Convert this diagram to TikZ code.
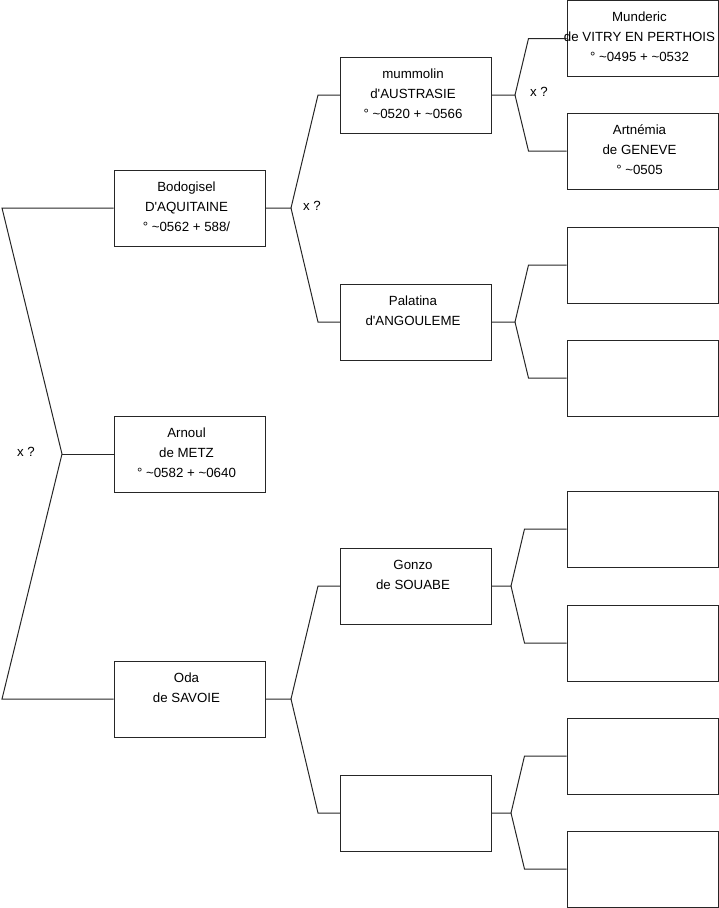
\documentclass[tikz,border=0pt]{standalone}
\usepackage{fontspec}
\setmainfont{Liberation Sans}
\usetikzlibrary{calc}
\begin{document}
\begin{tikzpicture}[x=1pt,y=-1pt,
  boxbase/.style={draw=black!85, line width=1pt, minimum width=151pt, minimum height=76pt, inner sep=0pt, fill=white},
  person/.style={boxbase, label={[anchor=north, yshift=-7.5pt, xshift=-3pt, align=center, inner sep=0pt, font=\fontsize{13.3}{20}\selectfont]north:#1}},
  emptybox/.style={boxbase},
  link/.style={draw=black!85, line width=1pt},
  qtext/.style={font=\fontsize{13.3}{20}\selectfont, inner sep=0pt}
]
\useasboundingbox (0,0) rectangle (719,908);

% generation 1
\node[person={\strut Bodogisel\\\strut D\textquotesingle AQUITAINE\\\strut ° \textasciitilde0562 + 588/}] (bodo) at (189.5,208) {};
\node[person={\strut Arnoul\\\strut de METZ\\\strut ° \textasciitilde0582 + \textasciitilde0640}] (arnoul) at (189.5,454) {};
\node[person={\strut Oda\\\strut de SAVOIE}] (oda) at (189.5,699) {};

% generation 2
\node[person={\strut mummolin\\\strut d\textquotesingle AUSTRASIE\\\strut ° \textasciitilde0520 + \textasciitilde0566}] (mumm) at (416,95) {};
\node[person={\strut Palatina\\\strut d\textquotesingle ANGOULEME}] (pala) at (416,322) {};
\node[person={\strut Gonzo\\\strut de SOUABE}] (gonzo) at (416,586) {};
\node[emptybox] (e2) at (416,813) {};

% generation 3
\node[person={\strut Munderic\\\strut de VITRY EN PERTHOIS\\\strut ° \textasciitilde0495 + \textasciitilde0532}] (mund) at (642.5,38.5) {};
\node[person={\strut Artnémia\\\strut de GENEVE\\\strut ° \textasciitilde0505}] (artn) at (642.5,151) {};
\node[emptybox] (p1) at (642.5,265) {};
\node[emptybox] (p2) at (642.5,378) {};
\node[emptybox] (g1) at (642.5,529) {};
\node[emptybox] (g2) at (642.5,643) {};
\node[emptybox] (h1) at (642.5,756) {};
\node[emptybox] (h2) at (642.5,869) {};

% bracket vertices
\coordinate (la) at (2,208);
\coordinate (lv) at (62,454);
\coordinate (lb) at (2,699);
\coordinate (bv) at (291,208);
\coordinate (ov) at (291,699);
\coordinate (mv) at (515,95);
\coordinate (pv) at (515,322);
\coordinate (gv) at (511,586);
\coordinate (ev) at (511,813);

% left bracket
\draw[link] (bodo.west) -- (la) -- (lv) -- (lb) -- (oda.west);
\draw[link] (lv) -- (arnoul.west);

% gen1 -> gen2
\draw[link] (bodo.east) -- (bv) -- ($(mumm.west)+(-22,0)$) -- (mumm.west);
\draw[link] (bv) -- ($(pala.west)+(-22,0)$) -- (pala.west);
\draw[link] (oda.east) -- (ov) -- ($(gonzo.west)+(-22,0)$) -- (gonzo.west);
\draw[link] (ov) -- ($(e2.west)+(-22,0)$) -- (e2.west);

% gen2 -> gen3
\draw[link] (mumm.east) -- (mv) -- ($(mund.west)+(-38,0)$) -- (mund.west);
\draw[link] (mv) -- ($(artn.west)+(-38,0)$) -- (artn.west);
\draw[link] (pala.east) -- (pv) -- ($(p1.west)+(-38,0)$) -- (p1.west);
\draw[link] (pv) -- ($(p2.west)+(-38,0)$) -- (p2.west);
\draw[link] (gonzo.east) -- (gv) -- ($(g1.west)+(-42,0)$) -- (g1.west);
\draw[link] (gv) -- ($(g2.west)+(-42,0)$) -- (g2.west);
\draw[link] (e2.east) -- (ev) -- ($(h1.west)+(-42,0)$) -- (h1.west);
\draw[link] (ev) -- ($(h2.west)+(-42,0)$) -- (h2.west);

% marriage marks
\node[qtext] (q0) at (26,452) {x ?};
\node[qtext] (q1) at (312,206) {x ?};
\node[qtext] (q2) at (539,92) {x ?};
\end{tikzpicture}
\end{document}
